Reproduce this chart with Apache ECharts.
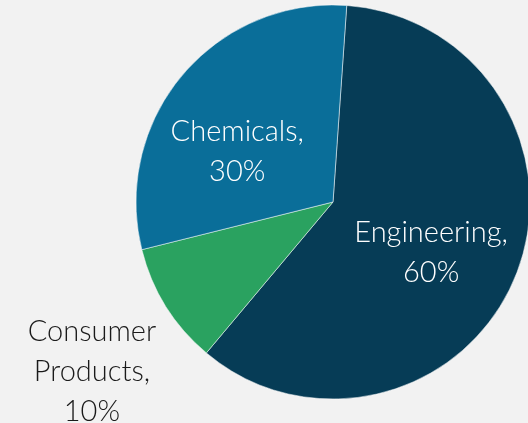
<!DOCTYPE html>
<html><head><meta charset="utf-8">
<script src="https://cdn.jsdelivr.net/npm/echarts@6/dist/echarts.min.js"></script>
<style>html,body{margin:0;padding:0;background:#F2F2F2}#c{width:528px;height:423px}</style>
</head><body><div id="c"></div>
<script>
const categories = ['Engineering', 'Consumer Products', 'Chemicals'];
const values = [60, 10, 30];
const colors = ['#063C56', '#2AA260', '#0A6E99'];
const labelColors = ['#ffffff', '#1a1a1a', '#ffffff'];
const labelOffsets = [[4, 13], [-155, 116], [-18, 15]];

const chart = echarts.init(document.getElementById('c'));
const data = categories.map((name, i) => ({
  name, value: values[i],
  itemStyle: { color: colors[i] },
  label: { color: labelColors[i], offset: labelOffsets[i] }
}));
chart.setOption({
  backgroundColor: '#F2F2F2',
  animation: false,
  series: [{
    type: 'pie',
    center: [333, 202],
    radius: [0, 197],
    startAngle: 86,
    clockwise: true,
    data,
    itemStyle: { borderColor: '#ffffff', borderWidth: 0.5 },
    label: {
      position: 'inside',
      fontFamily: 'Lato',
      fontWeight: 300,
      fontSize: 29,
      lineHeight: 40,
      align: 'center',
      overflow: 'none',
      formatter: p => p.name.replace(' ', '\n') + ',\n' + p.percent.toFixed(0) + '%'
    },
    labelLine: { show: false }
  }]
});
</script></body></html>
